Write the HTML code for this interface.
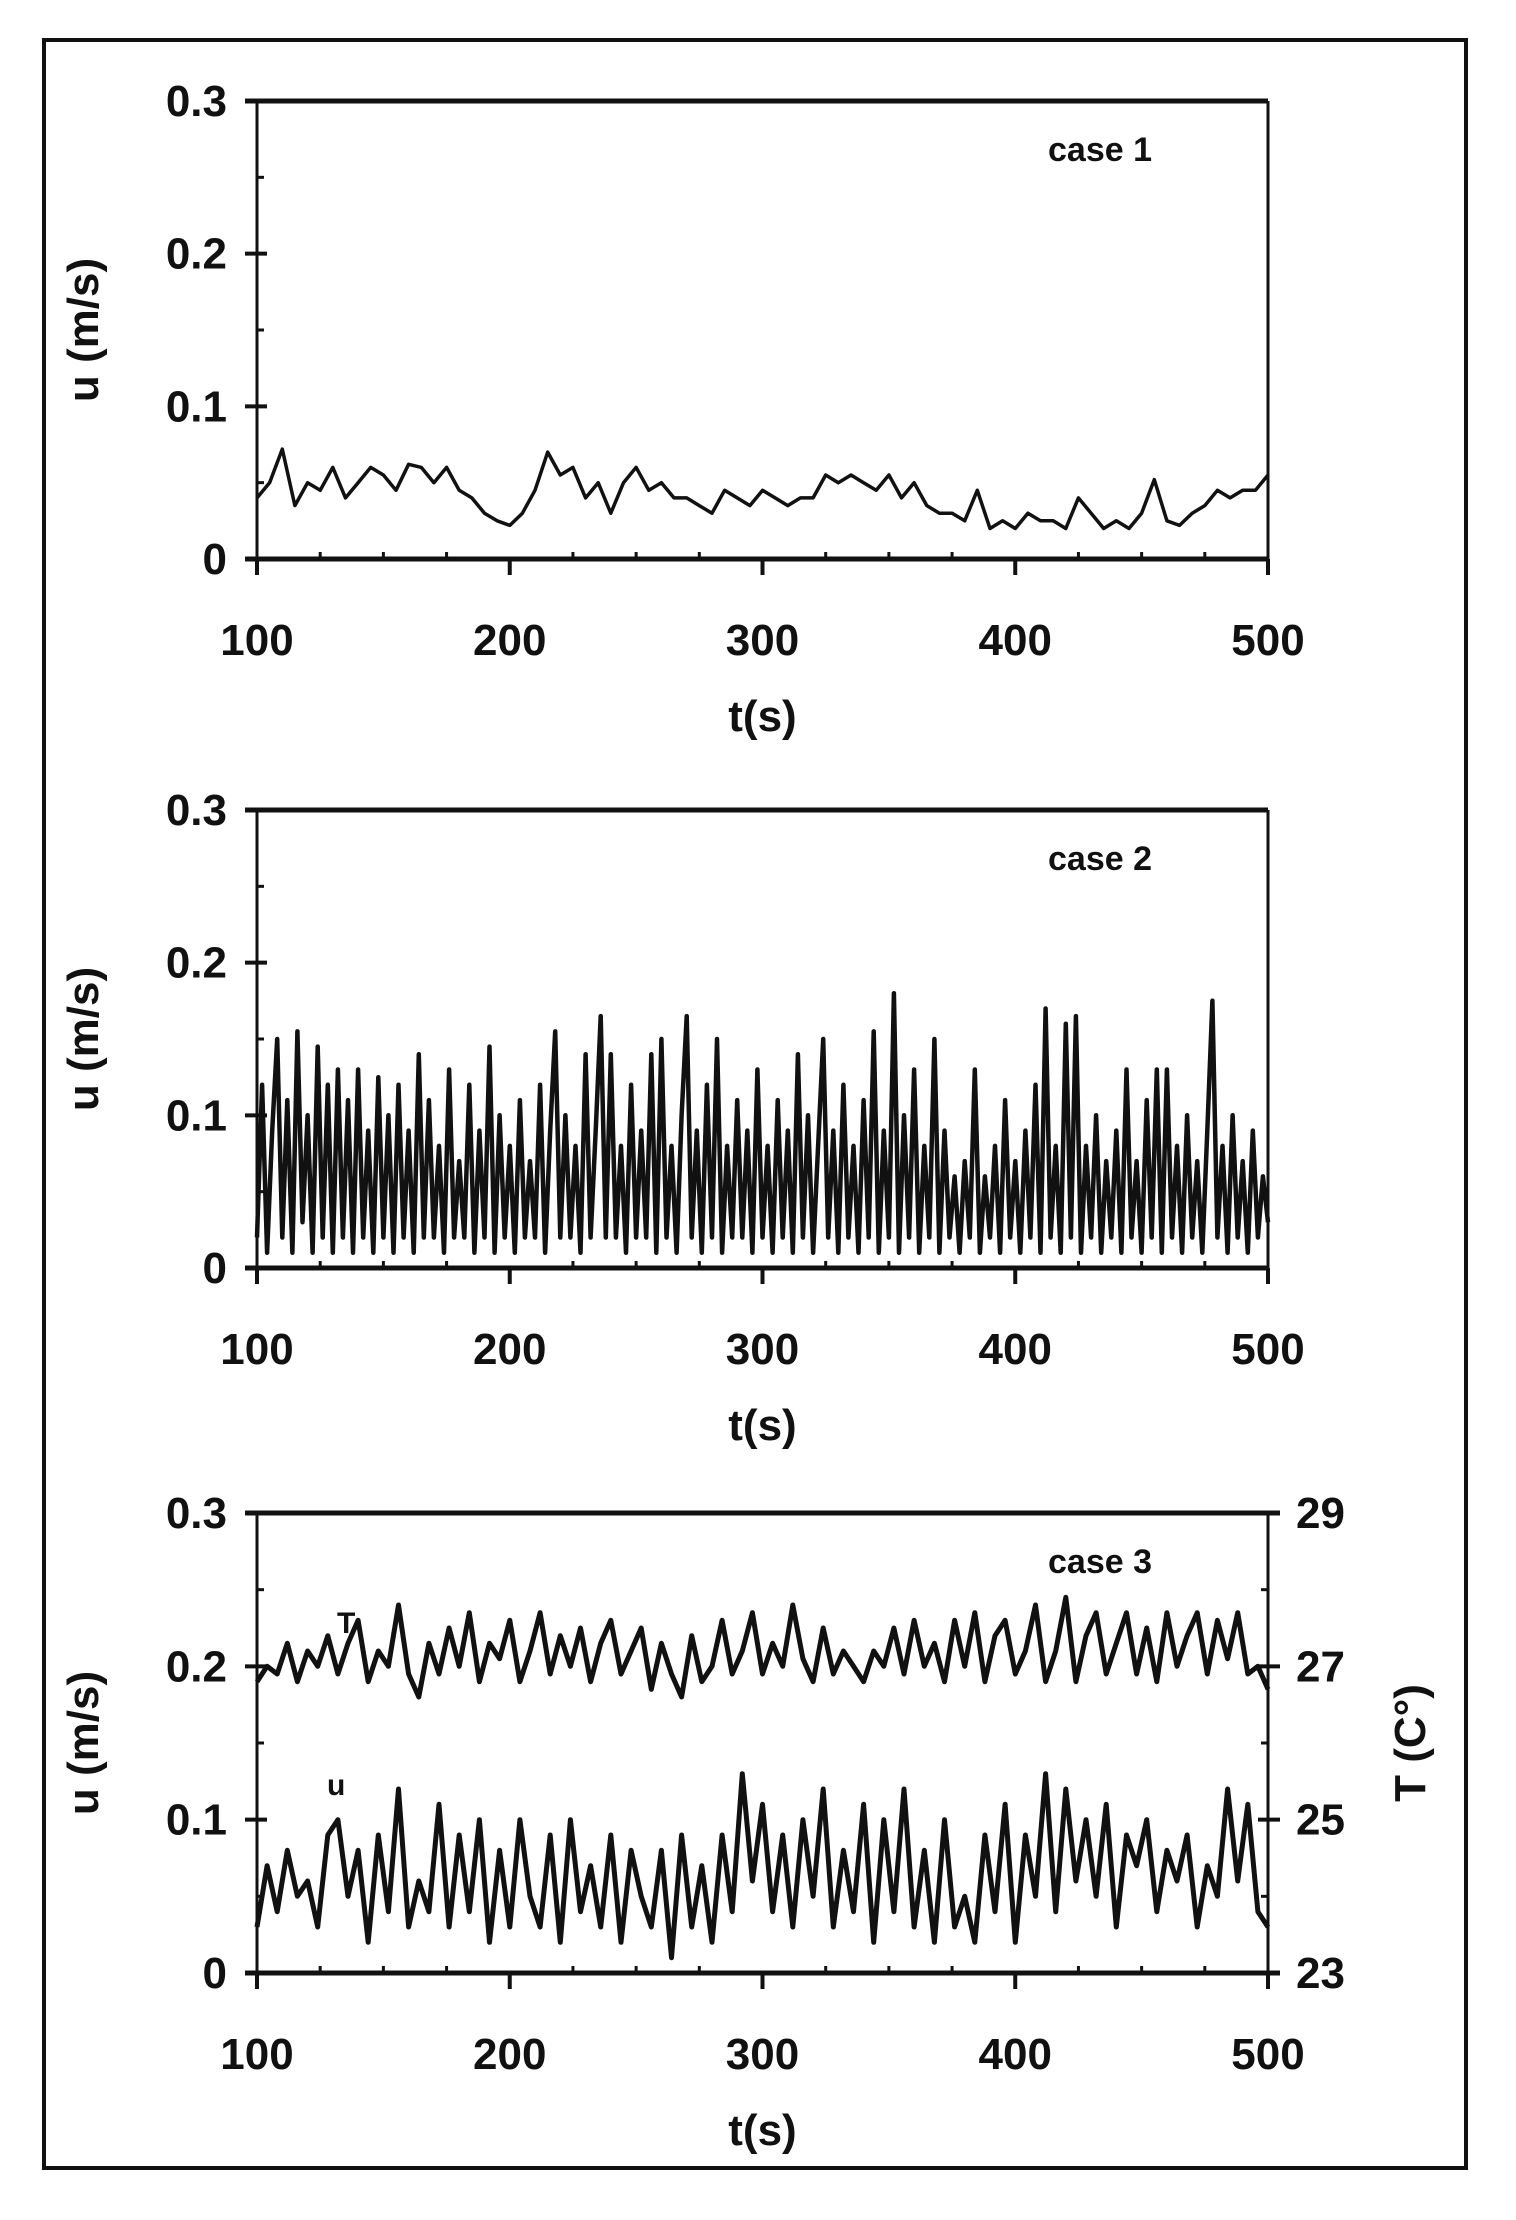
<!DOCTYPE html>
<html><head><meta charset="utf-8"><style>
html,body{margin:0;padding:0;background:#fff;}
svg{display:block;}
text{font-family:"Liberation Sans Narrow","Liberation Sans",sans-serif;font-weight:bold;fill:#111;}
</style></head><body>
<svg id="fig" width="1516" height="2220" viewBox="0 0 1516 2220" xmlns="http://www.w3.org/2000/svg">
<rect x="44" y="40" width="1422" height="2128" fill="none" stroke="#111" stroke-width="4"/>
</svg>
<script>
const xTicks=[100,200,300,400,500];
const uTicks=[0,0.1,0.2,0.3];
const uTickLabels=["0","0.1","0.2","0.3"];
const tTicks=[23,25,27,29];
const tTickLabels=["23","25","27","29"];
const tStart=100;
const case1Step=5;
const case1U=[0.04,0.05,0.072,0.035,0.05,0.045,0.06,0.04,0.05,0.06,0.055,0.045,0.062,0.06,0.05,0.06,0.045,0.04,0.03,0.025,0.022,0.03,0.045,0.07,0.055,0.06,0.04,0.05,0.03,0.05,0.06,0.045,0.05,0.04,0.04,0.035,0.03,0.045,0.04,0.035,0.045,0.04,0.035,0.04,0.04,0.055,0.05,0.055,0.05,0.045,0.055,0.04,0.05,0.035,0.03,0.03,0.025,0.045,0.02,0.025,0.02,0.03,0.025,0.025,0.02,0.04,0.03,0.02,0.025,0.02,0.03,0.052,0.025,0.022,0.03,0.035,0.045,0.04,0.045,0.045,0.055];
const case2Step=2;
const case2U=[0.02,0.12,0.01,0.09,0.15,0.02,0.11,0.01,0.155,0.03,
0.10,0.01,0.145,0.02,0.12,0.01,0.13,0.02,0.11,0.01,
0.13,0.02,0.09,0.01,0.125,0.02,0.10,0.01,0.12,0.02,
0.09,0.01,0.14,0.02,0.11,0.02,0.08,0.01,0.13,0.02,
0.07,0.02,0.12,0.01,0.09,0.02,0.145,0.01,0.10,0.02,
0.08,0.01,0.11,0.02,0.07,0.02,0.12,0.01,0.09,0.155,
0.02,0.10,0.02,0.08,0.01,0.14,0.02,0.09,0.165,0.02,
0.14,0.02,0.08,0.01,0.12,0.02,0.09,0.02,0.14,0.01,
0.15,0.02,0.08,0.01,0.10,0.165,0.02,0.09,0.01,0.12,
0.02,0.15,0.01,0.08,0.02,0.11,0.02,0.09,0.01,0.13,
0.02,0.08,0.01,0.11,0.02,0.09,0.01,0.14,0.02,0.10,
0.01,0.08,0.15,0.02,0.09,0.01,0.12,0.02,0.08,0.01,
0.11,0.02,0.155,0.01,0.09,0.02,0.18,0.01,0.10,0.02,
0.13,0.01,0.08,0.02,0.15,0.01,0.09,0.02,0.06,0.01,
0.07,0.02,0.13,0.01,0.06,0.02,0.08,0.01,0.11,0.02,
0.07,0.01,0.09,0.02,0.12,0.01,0.17,0.02,0.08,0.01,
0.16,0.02,0.165,0.01,0.08,0.02,0.10,0.01,0.07,0.02,
0.09,0.01,0.13,0.02,0.07,0.01,0.11,0.02,0.13,0.01,
0.13,0.02,0.08,0.01,0.10,0.02,0.07,0.01,0.09,0.175,
0.02,0.08,0.01,0.10,0.02,0.07,0.01,0.09,0.02,0.06,0.03];
const case3Step=4;
const case3T=[26.8,27.0,26.9,27.3,26.8,27.2,27.0,27.4,26.9,27.3,
27.6,26.8,27.2,27.0,27.8,26.9,26.6,27.3,26.9,27.5,
27.0,27.7,26.8,27.3,27.1,27.6,26.8,27.2,27.7,26.9,
27.4,27.0,27.5,26.8,27.3,27.6,26.9,27.2,27.5,26.7,
27.3,26.9,26.6,27.4,26.8,27.0,27.6,26.9,27.2,27.7,
26.9,27.3,27.0,27.8,27.1,26.8,27.5,26.9,27.2,27.0,
26.8,27.2,27.0,27.5,26.9,27.6,27.0,27.3,26.8,27.6,
27.0,27.7,26.8,27.4,27.6,26.9,27.2,27.8,26.8,27.2,
27.9,26.8,27.4,27.7,26.9,27.3,27.7,26.9,27.5,26.8,
27.7,27.0,27.4,27.7,26.9,27.6,27.1,27.7,26.9,27.0,26.7];
const case3U=[0.03,0.07,0.04,0.08,0.05,0.06,0.03,0.09,0.10,0.05,
0.08,0.02,0.09,0.04,0.12,0.03,0.06,0.04,0.11,0.03,
0.09,0.04,0.10,0.02,0.08,0.03,0.10,0.05,0.03,0.09,
0.02,0.10,0.04,0.07,0.03,0.09,0.02,0.08,0.05,0.03,
0.08,0.01,0.09,0.03,0.07,0.02,0.09,0.04,0.13,0.06,
0.11,0.04,0.09,0.03,0.10,0.05,0.12,0.03,0.08,0.04,
0.11,0.02,0.10,0.04,0.12,0.03,0.08,0.02,0.10,0.03,
0.05,0.02,0.09,0.04,0.11,0.02,0.09,0.05,0.13,0.04,
0.12,0.06,0.10,0.05,0.11,0.03,0.09,0.07,0.10,0.04,
0.08,0.06,0.09,0.03,0.07,0.05,0.12,0.06,0.11,0.04,0.03];

const NS="http://www.w3.org/2000/svg";
const svg=document.getElementById('fig');
const L=257,R=1268;
function mk(tag,attrs,parent){const e=document.createElementNS(NS,tag);for(const k in attrs)e.setAttribute(k,attrs[k]);(parent||svg).appendChild(e);return e;}
function xs(t){return L+(t-100)/400*(R-L);}

function panel(idx,top,bot,caseLabel,dual){
  const g=mk('g',{});
  
  
  const ys=v=>bot-(v/0.3)*(bot-top);
  const yt=v=>bot-((v-23)/6)*(bot-top);
  const ax=mk('g',{},g);
  
  
  mk('line',{x1:L-12,y1:top,x2:R+(dual?12:0),y2:top,stroke:'#111','stroke-width':5},ax);
  mk('line',{x1:L-12,y1:bot,x2:R+(dual?12:0),y2:bot,stroke:'#111','stroke-width':5},ax);
  mk('line',{x1:L,y1:top,x2:L,y2:bot+14,stroke:'#111','stroke-width':3},ax);
  mk('line',{x1:R,y1:top,x2:R,y2:bot+14,stroke:'#111','stroke-width':3},ax);
  for(let t=100;t<=500;t+=25){const x=xs(t);
    if(t%100===0){mk('line',{x1:x,y1:bot,x2:x,y2:bot+16,stroke:'#111','stroke-width':4},ax);}
    else{mk('line',{x1:x,y1:bot,x2:x,y2:bot-7,stroke:'#111','stroke-width':3},ax);}
  }
  xTicks.forEach(t=>{const tx=mk('text',{x:xs(t),y:bot+96,'text-anchor':'middle','font-size':44},g);tx.textContent=String(t);
    
    });
  uTicks.forEach((v,i)=>{const y=ys(v);
    mk('line',{x1:L-12,y1:y,x2:L+10,y2:y,stroke:'#111','stroke-width':4},ax);
    const tx=mk('text',{x:L-30,y:y+15,'text-anchor':'end','font-size':44},g);tx.textContent=uTickLabels[i];
    
    });
  [0.05,0.15,0.25].forEach(v=>mk('line',{x1:L,y1:ys(v),x2:L+7,y2:ys(v),stroke:'#111','stroke-width':3},ax));
  const xt=mk('text',{x:(L+R)/2,y:bot+172,'text-anchor':'middle','font-size':44},g);xt.textContent='t(s)';
  
  
  const yT=mk('text',{x:0,y:0,'text-anchor':'middle','font-size':44,transform:`translate(98,${(top+bot)/2}) rotate(-90)`},g);yT.textContent='u (m/s)';
  
  
  const cl=mk('text',{x:1100,y:top+60,'text-anchor':'middle','font-size':34},g);cl.textContent=caseLabel;
  
  
  if(dual){
    tTicks.forEach((v,i)=>{const y=yt(v);
      mk('line',{x1:R-10,y1:y,x2:R+12,y2:y,stroke:'#111','stroke-width':4},ax);
      const tx=mk('text',{x:R+28,y:y+15,'text-anchor':'start','font-size':44},g);tx.textContent=tTickLabels[i];
      
      });
    [24,26,28].forEach(v=>mk('line',{x1:R,y1:yt(v),x2:R-7,y2:yt(v),stroke:'#111','stroke-width':3},ax));
    const rT=mk('text',{x:0,y:0,'text-anchor':'middle','font-size':44,transform:`translate(1425,${(top+bot)/2}) rotate(-90)`},g);rT.textContent='T (C°)';
    
    
  }
  return {g,ys,yt};
}
function series(g,vals,step,yf,w,name){
  const pts=vals.map((v,i)=>xs(tStart+i*step).toFixed(1)+','+yf(v).toFixed(1)).join(' ');
  const p=mk('polyline',{points:pts,fill:'none',stroke:'#111','stroke-width':w,'stroke-linejoin':'round'},g);
  
  
}
const p1=panel(1,101,559,'case 1',false);
series(p1.g,case1U,case1Step,p1.ys,3.5,'case1-u-line');
const p2=panel(2,810,1268,'case 2',false);
series(p2.g,case2U,case2Step,p2.ys,4.5,'case2-u-line');
const p3=panel(3,1513,1973,'case 3',true);
series(p3.g,case3T,case3Step,p3.yt,5,'case3-t-line');
series(p3.g,case3U,case3Step,p3.ys,5,'case3-u-line');
const lT=mk('text',{x:337,y:1633,'font-size':30},p3.g);lT.textContent='T';


const lU=mk('text',{x:327,y:1795,'font-size':30},p3.g);lU.textContent='u';


</script>
</body></html>
